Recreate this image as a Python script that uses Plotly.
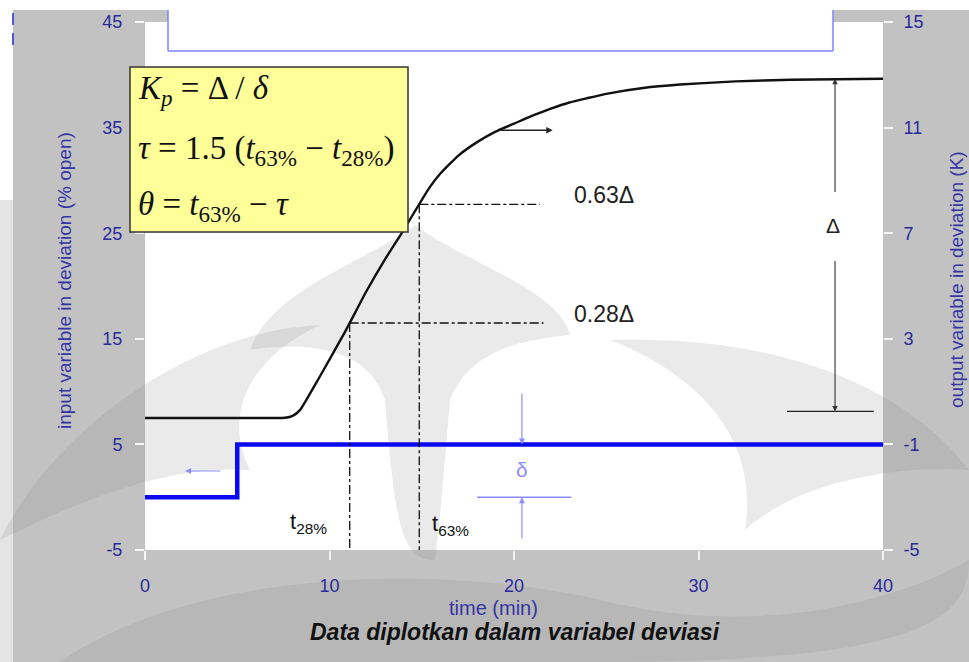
import numpy as np
import plotly.graph_objects as go

# Input variable (valve opening, % open, deviation) – step at t = 5 min
input_time = [0, 5, 40]
input_dev = [0, 5, 5]

# Output variable (K, deviation) – process reaction curve
output_time = [0, 7.0, 7.6, 8.0, 8.4, 8.8, 9.5, 10.84, 12.0, 13.0, 14.0, 15.4, 16.0, 17.0,
               18.0, 19.0, 20.0, 21.0, 22.0, 23.0, 24.0, 25.0, 27.0, 29.0, 32.0, 35.0, 40.0]
output_dev = [0, 0, 0.01, 0.08, 0.3, 0.75, 1.6, 3.26, 4.8, 6.0, 7.1, 8.71, 9.25, 9.95,
              10.45, 10.85, 11.15, 11.45, 11.72, 11.95, 12.12, 12.28, 12.5, 12.63, 12.75, 12.81, 12.85]

x_ticks = [0, 10, 20, 30, 40]
left_ticks = [-5, 5, 15, 25, 35, 45]
right_ticks = [-5, -1, 3, 7, 11, 15]

# Characteristic levels and times
delta_out = output_dev[-1] - output_dev[0]
level28 = output_dev[0] + 0.28 * delta_out
level63 = output_dev[0] + 0.63 * delta_out
t28 = float(np.interp(level28, output_dev[1:], output_time[1:]))
t63 = float(np.interp(level63, output_dev[1:], output_time[1:]))

W, H = 969, 662
L, R, T, B = 145, 86, 22, 112
PW, PH = W - L - R, H - T - B


def px(x):
    return (x - L) / PW


def py(y):
    return (H - B - y) / PH


def path(points):
    """Closed SVG path (paper coords) from pixel points: first point, then cubic triples."""
    s = "M %.4f %.4f " % (px(points[0][0]), py(points[0][1]))
    rest = points[1:]
    for i in range(0, len(rest), 3):
        a, b, c = rest[i:i + 3]
        s += "C %.4f %.4f, %.4f %.4f, %.4f %.4f " % (
            px(a[0]), py(a[1]), px(b[0]), py(b[1]), px(c[0]), py(c[1]))
    return s + "Z"


NAVY = "#2a2a9c"
LAV = "#8c8cff"
FONT = "Liberation Sans, Arial, sans-serif"
SERIF = "Liberation Serif, Times New Roman, serif"

fig = go.Figure()

fig.add_trace(go.Scatter(
    x=input_time, y=input_dev, mode="lines", line_shape="hv",
    line=dict(color="#0a0af0", width=4.5), yaxis="y", hoverinfo="skip"))

fig.add_trace(go.Scatter(
    x=output_time, y=output_dev, mode="lines",
    line=dict(color="#111111", width=2.4, shape="spline", smoothing=0.5),
    yaxis="y2", hoverinfo="skip"))

shapes = []
# page decoration: top strip and framed header
shapes.append(dict(type="rect", xref="paper", yref="paper", x0=px(-10), x1=px(980),
                   y0=py(10), y1=py(-10), fillcolor="white", line_width=0, layer="below"))
shapes.append(dict(type="rect", xref="paper", yref="paper", x0=px(-10), x1=px(13),
                   y0=py(670), y1=py(10), fillcolor="#e4e4e4", line_width=0, layer="below"))
shapes.append(dict(type="rect", xref="paper", yref="paper", x0=px(-10), x1=px(13),
                   y0=py(200), y1=py(10), fillcolor="white", line_width=0, layer="below"))
shapes.append(dict(type="rect", xref="paper", yref="paper", x0=px(168), x1=px(833),
                   y0=py(51), y1=py(0), fillcolor="white", line_width=0, layer="below"))

# faint emblem in the background
wm = dict(type="path", xref="paper", yref="paper", fillcolor="#808080",
          opacity=0.17, line_width=0, layer="below")
emblem = [
    # central dome with stem
    [(250, 350), (270, 290), (370, 260), (415, 225), (460, 260), (560, 290), (570, 335),
     (520, 340), (470, 350), (450, 400), (445, 460), (440, 520), (435, 560),
     (400, 560), (395, 520), (385, 400), (370, 350), (310, 340), (250, 350)],
    # left sweep
    [(0, 540), (60, 420), (200, 330), (320, 325), (255, 355), (220, 410), (250, 470),
     (180, 465), (100, 490), (0, 540)],
    # right sweep
    [(969, 470), (900, 380), (770, 335), (610, 340), (700, 375), (760, 440), (745, 530),
     (800, 480), (900, 465), (969, 470)],
    # lower sweep
    [(60, 662), (200, 565), (450, 565), (600, 600), (760, 640), (900, 600), (969, 560),
     (969, 620), (920, 662), (600, 662), (400, 662), (200, 662), (60, 662)],
]
for pts in emblem:
    shapes.append(dict(wm, path=path(pts)))

for seg in [((168, 10), (168, 51)), ((168, 51), (833, 51)), ((833, 51), (833, 10))]:
    (xa, ya), (xb, yb) = seg
    shapes.append(dict(type="line", xref="paper", yref="paper", x0=px(xa), x1=px(xb),
                       y0=py(ya), y1=py(yb), line=dict(color="#8080ff", width=1.5)))
for ya, yb in [(13, 25), (33, 45)]:
    shapes.append(dict(type="line", xref="paper", yref="paper", x0=px(13), x1=px(13),
                       y0=py(ya), y1=py(yb), line=dict(color="#5555dd", width=2)))

# dashed construction lines
dash = dict(color="#111111", width=1.3, dash="dashdot")
shapes.append(dict(type="line", xref="x", yref="y2", x0=t63, x1=21.4,
                   y0=level63, y1=level63, line=dash))
shapes.append(dict(type="line", xref="x", yref="y2", x0=t28, x1=21.6,
                   y0=level28, y1=level28, line=dash))
shapes.append(dict(type="line", xref="x", yref="y2", x0=t28, x1=t28,
                   y0=level28, y1=-5, line=dash))
shapes.append(dict(type="line", xref="x", yref="y2", x0=t63, x1=t63,
                   y0=level63, y1=-5, line=dash))

# Delta dimension base
shapes.append(dict(type="line", xref="x", yref="y2", x0=34.8, x1=39.5,
                   y0=0.25, y1=0.25, line=dict(color="#222222", width=1.3)))
# delta (input) dimension base line
shapes.append(dict(type="line", xref="x", yref="y", x0=18.0, x1=23.1,
                   y0=input_dev[0], y1=input_dev[0], line=dict(color=LAV, width=1.4)))

# formula box
shapes.append(dict(type="rect", xref="paper", yref="paper", x0=px(130), x1=px(408),
                   y0=py(232), y1=py(67), fillcolor="#ffff99",
                   line=dict(color="#333333", width=1.5)))

ann = []


def arrow(x, y, ax, ay, yref, color, width=1.2, head=2, size=1.0):
    ann.append(dict(x=x, y=y, ax=ax, ay=ay, xref="x", yref=yref, axref="x", ayref=yref,
                    text="", showarrow=True, arrowhead=head, arrowsize=size,
                    arrowwidth=width, arrowcolor=color))


def label(x, y, text, font, xref="paper", yref="paper", xanchor="center", angle=0):
    ann.append(dict(x=x, y=y, xref=xref, yref=yref, text=text, showarrow=False,
                    xanchor=xanchor, yanchor="middle", textangle=angle, font=font))


# curve pointer to right axis
arrow(22.1, 10.9, 19.2, 10.9, "y2", "#222222", 1.3)
# Delta arrows
arrow(37.4, output_dev[-1], 37.4, 8.5, "y2", "#333333", 1.1)
arrow(37.4, 0.25, 37.4, 6.0, "y2", "#333333", 1.1)
# delta arrows
arrow(20.43, input_dev[-1], 20.43, 9.96, "y", LAV, 1.2)
arrow(20.43, input_dev[0], 20.43, -4.05, "y", LAV, 1.2)
# input pointer to left axis
arrow(2.17, 2.48, 4.17, 2.48, "y", LAV, 1.2)

txt = dict(family=FONT, size=23, color="#222222")
label(px(572), level63 + 0.35, "0.63Δ", txt, yref="y2", xanchor="left")
label(px(572), level28 + 0.35, "0.28Δ", txt, yref="y2", xanchor="left")
label(px(833), py(225), "Δ", dict(family=FONT, size=21, color="#222222"))
label(20.43, 2.6, "δ", dict(family=FONT, size=21, color=LAV), xref="x", yref="y")
tfont = dict(family=FONT, size=22, color="#111111")
label(t28 - 1.1, py(523), "t<sub>28%</sub>", tfont, xref="x", xanchor="right")
label(t63 + 0.6, py(525), "t<sub>63%</sub>", tfont, xref="x", xanchor="left")

# formulas
ff = dict(family=SERIF, size=33, color="#111111")
label(px(136), py(90), "<i>K</i><sub><i>p</i></sub> = Δ / <i>δ</i>", ff, xanchor="left")
label(px(136), py(150), "<i>τ</i> = 1.5 (<i>t</i><sub>63%</sub> − <i>t</i><sub>28%</sub>)",
      ff, xanchor="left")
label(px(136), py(207), "<i>θ</i> = <i>t</i><sub>63%</sub> − <i>τ</i>", ff, xanchor="left")

# axis titles and caption
tf = dict(family=FONT, size=19, color="#3535a5")
label(px(64), py(281), "input variable in deviation (% open)", tf, angle=-90)
label(px(956), py(280), "output variable in deviation (K)", tf, angle=-90)
label(px(493), py(608), "time (min)", dict(family=FONT, size=20, color="#3535a5"))
label(px(515), py(632), "<b><i>Data diplotkan dalam variabel deviasi</i></b>",
      dict(family=FONT, size=23, color="#111111"))

tickfont = dict(family=FONT, size=18, color=NAVY)
axis_common = dict(showgrid=False, zeroline=False, showline=False, ticks="outside",
                   ticklen=9, tickwidth=2, tickcolor="#f4f4f4", tickfont=tickfont)

fig.update_layout(
    width=W, height=H, margin=dict(l=L, r=R, t=T, b=B),
    paper_bgcolor="#c2c2c2", plot_bgcolor="white", showlegend=False,
    xaxis=dict(range=[0, 40], tickvals=x_ticks, ticktext=[str(v) for v in x_ticks],
               ticklabelstandoff=10, **axis_common),
    yaxis=dict(range=[-5, 45], tickvals=left_ticks, ticktext=[str(v) for v in left_ticks],
               ticklabelstandoff=9, **axis_common),
    yaxis2=dict(range=[-5, 15], tickvals=right_ticks, ticktext=[str(v) for v in right_ticks],
                overlaying="y", side="right", ticklabelstandoff=7, **axis_common),
    shapes=shapes, annotations=ann,
)

fig.write_html("out.html")
